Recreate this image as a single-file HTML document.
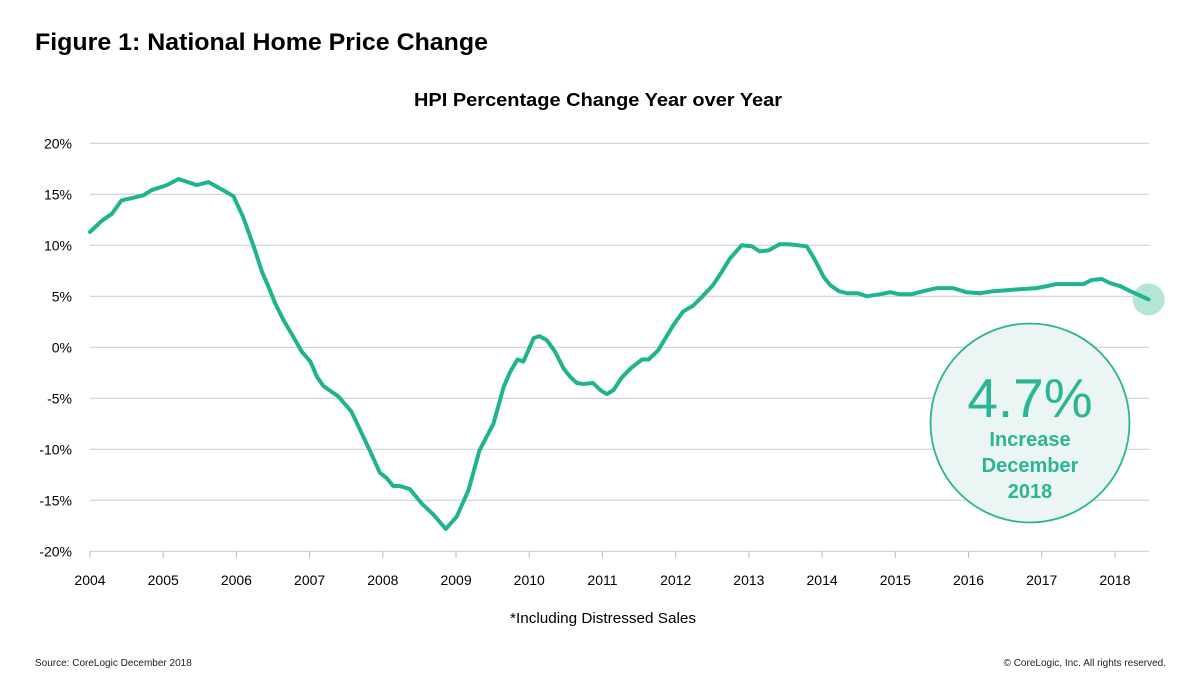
<!DOCTYPE html>
<html><head><meta charset="utf-8"><style>
html,body{margin:0;padding:0;background:#fff;}
svg{display:block;font-family:"Liberation Sans",Arial,sans-serif;}
</style></head><body>
<svg id="chart" width="1200" height="699" viewBox="0 0 1200 699">
<text x="35" y="50" font-size="24.5" font-weight="bold" fill="#000" textLength="453" lengthAdjust="spacingAndGlyphs">Figure 1: National Home Price Change</text>
<text x="598" y="106" font-size="18" font-weight="bold" fill="#000" text-anchor="middle" textLength="368" lengthAdjust="spacingAndGlyphs">HPI Percentage Change Year over Year</text>
<g id="grid"></g>
<g id="yticks"></g>
<g id="xticks"></g>
<path id="line" fill="none" stroke="#20b48e" stroke-width="4" stroke-linejoin="round" stroke-linecap="round"></path>
<circle id="endDot" r="16" fill="#b4e5d5"></circle>
<g>
<circle cx="1030" cy="423" r="99.5" fill="#ebf5f4" stroke="#2cb594" stroke-width="1.8"></circle>
<text x="1030" y="417" font-size="55" fill="#2cb594" text-anchor="middle">4.7%</text>
<text x="1030" y="446" font-size="20" font-weight="bold" fill="#2cb594" text-anchor="middle">Increase</text>
<text x="1030" y="472" font-size="20" font-weight="bold" fill="#2cb594" text-anchor="middle">December</text>
<text x="1030" y="498" font-size="20" font-weight="bold" fill="#2cb594" text-anchor="middle">2018</text>
</g>
<text x="603" y="623" font-size="14.5" fill="#000" text-anchor="middle" textLength="186" lengthAdjust="spacingAndGlyphs">*Including Distressed Sales</text>
<text x="35" y="666" font-size="10" fill="#222">Source: CoreLogic December 2018</text>
<text x="1166" y="666" font-size="10" fill="#222" text-anchor="end">© CoreLogic, Inc. All rights reserved.</text>
</svg>
<script>
const yTicks = [20, 15, 10, 5, 0, -5, -10, -15, -20];
const xTickYears = [2004,2005,2006,2007,2008,2009,2010,2011,2012,2013,2014,2015,2016,2017,2018];
const dates = [0.00,0.16,0.30,0.43,0.55,0.73,0.84,1.05,1.21,1.46,1.62,1.82,1.96,2.09,2.23,2.35,2.44,2.53,2.64,2.78,2.89,3.01,3.10,3.19,3.39,3.57,3.69,3.82,3.96,4.05,4.14,4.23,4.37,4.53,4.69,4.86,5.01,5.17,5.32,5.51,5.65,5.74,5.84,5.92,6.06,6.14,6.24,6.35,6.47,6.56,6.65,6.74,6.87,6.97,7.06,7.15,7.26,7.38,7.54,7.63,7.76,7.97,8.10,8.24,8.38,8.51,8.63,8.74,8.90,9.04,9.15,9.27,9.42,9.54,9.67,9.79,9.90,10.02,10.11,10.23,10.34,10.49,10.61,10.79,10.93,11.06,11.22,11.38,11.57,11.79,11.97,12.16,12.34,12.52,12.70,12.93,13.07,13.20,13.57,13.68,13.82,13.93,14.07,14.21,14.46];
const hpiChange = [11.3,12.4,13.1,14.4,14.6,14.9,15.4,15.9,16.5,15.9,16.2,15.4,14.8,12.8,10.0,7.4,5.9,4.3,2.7,1.0,-0.4,-1.4,-2.9,-3.8,-4.8,-6.3,-8.1,-10.1,-12.3,-12.8,-13.6,-13.6,-13.9,-15.3,-16.4,-17.8,-16.6,-14.0,-10.1,-7.5,-3.9,-2.4,-1.2,-1.4,0.9,1.1,0.7,-0.4,-2.1,-2.9,-3.5,-3.6,-3.5,-4.2,-4.6,-4.2,-3.0,-2.1,-1.2,-1.2,-0.3,2.2,3.5,4.1,5.1,6.1,7.4,8.7,10.0,9.9,9.4,9.5,10.1,10.1,10.0,9.9,8.6,6.9,6.1,5.5,5.3,5.3,5.0,5.2,5.4,5.2,5.2,5.5,5.8,5.8,5.4,5.3,5.5,5.6,5.7,5.8,6.0,6.2,6.2,6.6,6.7,6.3,6.0,5.5,4.7];

const NS = "http://www.w3.org/2000/svg";
const x0 = 90, pxPerYear = 73.21, y0 = 347.3, pxPerPct = 10.2;
function xScale(t){ return x0 + t * pxPerYear; }
function xYear(yr){ return xScale(yr - 2004); }
function yScale(v){ return y0 - v * pxPerPct; }

const grid = document.getElementById('grid');
const yg = document.getElementById('yticks');
yTicks.forEach(v => {
  const l = document.createElementNS(NS,'line');
  l.setAttribute('x1', 90); l.setAttribute('x2', 1149);
  l.setAttribute('y1', yScale(v)); l.setAttribute('y2', yScale(v));
  l.setAttribute('stroke', '#c9c9c9'); l.setAttribute('stroke-width', '1');
  
  
  grid.appendChild(l);
  const t = document.createElementNS(NS,'text');
  t.setAttribute('x', 72); t.setAttribute('y', yScale(v) + 5);
  t.setAttribute('font-size', '14'); t.setAttribute('text-anchor', 'end'); t.setAttribute('fill', '#000');
  t.textContent = v + '%';
  
  
  yg.appendChild(t);
});
const xg = document.getElementById('xticks');
xTickYears.forEach(yr => {
  const x = xYear(yr);
  const tk = document.createElementNS(NS,'line');
  tk.setAttribute('x1', x); tk.setAttribute('x2', x);
  tk.setAttribute('y1', 551); tk.setAttribute('y2', 558);
  tk.setAttribute('stroke', '#bbb');
  
  
  xg.appendChild(tk);
  const t = document.createElementNS(NS,'text');
  t.setAttribute('x', x); t.setAttribute('y', 585);
  t.setAttribute('font-size', '14'); t.setAttribute('text-anchor', 'middle'); t.setAttribute('fill', '#000');
  t.textContent = yr;
  
  
  xg.appendChild(t);
});
let d = '';
dates.forEach((t, i) => { d += (i ? 'L' : 'M') + xScale(t).toFixed(1) + ',' + yScale(hpiChange[i]).toFixed(1); });
document.getElementById('line').setAttribute('d', d);
const last = dates.length - 1;
const dot = document.getElementById('endDot');
dot.setAttribute('cx', xScale(dates[last]));
dot.setAttribute('cy', yScale(hpiChange[last]));
document.getElementById('chart').insertBefore(dot, document.getElementById('line'));
</script>
</body></html>
